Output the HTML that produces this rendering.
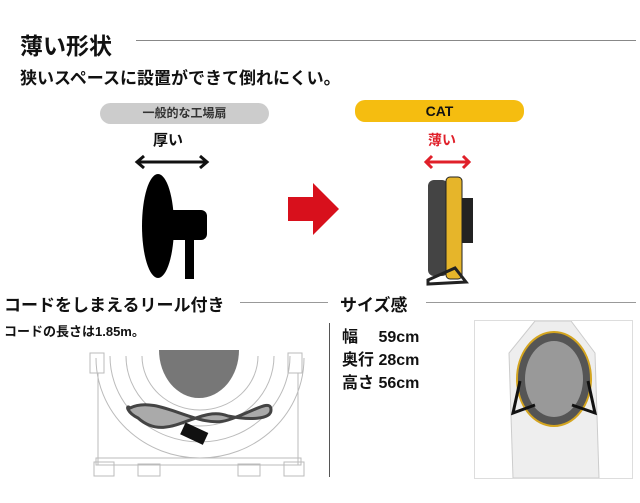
<!DOCTYPE html><html><head><meta charset="utf-8"><style>
body{margin:0;width:640px;height:503px;overflow:hidden;background:#fff;font-family:"Liberation Sans","Noto Sans CJK JP",sans-serif;font-weight:bold;color:#111;position:relative}
.a{position:absolute;white-space:nowrap}
</style></head><body>
<div class="a" style="left:20px;top:27px;font-size:23px">薄い形状</div>
<div class="a" style="left:136px;top:40px;width:500px;height:1px;background:#888"></div>
<div class="a" style="left:20px;top:64px;font-size:17px">狭いスペースに設置ができて倒れにくい。</div>
<div class="a" style="left:100px;top:103px;width:169px;height:21px;border-radius:11px;background:#ccc;text-align:center;font-size:12px;line-height:21px;color:#333">一般的な工場扇</div>
<div class="a" style="left:153px;top:129px;font-size:15px">厚い</div>
<div class="a" style="left:355px;top:100px;width:169px;height:22px;border-radius:10px;background:#f5bd10;text-align:center;font-size:14px;line-height:22px">CAT</div>
<div class="a" style="left:428px;top:130px;font-size:14px;color:#e0202a">薄い</div>
<svg class="a" style="left:0;top:0" width="640" height="503">
<g stroke="#111" stroke-width="3" fill="none"><line x1="138" y1="162" x2="206" y2="162"/><polyline points="144,156 137,162 144,168"/><polyline points="200,156 207,162 200,168"/></g>
<g stroke="#e0202a" stroke-width="3" fill="none"><line x1="427" y1="162" x2="468" y2="162"/><polyline points="432,156 426,162 432,168"/><polyline points="463,156 469,162 463,168"/></g>
<ellipse cx="158" cy="226" rx="16" ry="52" fill="#000"/>
<rect x="163" y="210" width="44" height="30" rx="6" fill="#000"/>
<rect x="185" y="236" width="9" height="43" fill="#000"/>
<polygon points="288,197 313,197 313,183 339,209 313,235 313,221 288,221" fill="#d8101c"/>
<rect x="428" y="180" width="20" height="96" rx="6" fill="#444"/>
<rect x="446" y="177" width="16" height="102" rx="4" fill="#e6b52a" stroke="#222"/>
<rect x="462" y="198" width="11" height="45" fill="#222"/>
<polygon points="428,280 455,268 466,282 428,284" fill="none" stroke="#222" stroke-width="3"/>
</svg>
<div class="a" style="left:4px;top:291px;font-size:17px">コードをしまえるリール付き</div>
<div class="a" style="left:240px;top:302px;width:88px;height:1px;background:#999"></div>
<div class="a" style="left:340px;top:291px;font-size:17px">サイズ感</div>
<div class="a" style="left:426px;top:302px;width:210px;height:1px;background:#999"></div>
<div class="a" style="left:4px;top:321px;font-size:13px">コードの長さは1.85m。</div>
<div class="a" style="left:329px;top:323px;width:1px;height:154px;background:#555"></div>
<div class="a" style="left:342px;top:326px;font-size:16px;line-height:23px">幅　 59cm<br>奥行 28cm<br>高さ 56cm</div>
<svg class="a" style="left:88px;top:350px" width="225" height="130">
<g fill="none" stroke="#bbb" stroke-width="1"><path d="M8,8 A104,100 0 0 0 216,8"/><path d="M22,6 A90,86 0 0 0 202,6"/><path d="M38,6 A74,70 0 0 0 186,6"/><path d="M54,6 A58,54 0 0 0 170,6"/><rect x="2" y="3" width="14" height="20"/><rect x="200" y="3" width="14" height="20"/><line x1="10" y1="23" x2="10" y2="115"/><line x1="210" y1="23" x2="210" y2="115"/><rect x="8" y="108" width="205" height="7"/><rect x="6" y="112" width="20" height="14"/><rect x="196" y="112" width="20" height="14"/><rect x="50" y="114" width="22" height="12"/><rect x="150" y="114" width="22" height="12"/></g>
<path d="M71,0 A40,48 0 0 0 151,0 Z" fill="#777"/>
<path d="M42,58 C70,44 110,80 140,70 C165,62 183,48 183,60 C183,70 160,70 140,66 C110,54 80,95 50,68 C38,62 38,54 42,58 Z" fill="#aaa" stroke="#444" stroke-width="3"/>
<rect x="94" y="77" width="25" height="13" transform="rotate(25 106 83)" fill="#111"/>
</svg>
<div class="a" style="left:474px;top:320px;width:157px;height:157px;border:1px solid #ddd;overflow:hidden">
<svg width="157" height="157"><path d="M60,0 L96,0 L120,32 L124,157 L38,157 L34,32 Z" fill="#eee" stroke="#ccc"/>
<ellipse cx="79" cy="58" rx="37" ry="47" fill="#555" stroke="#d4a520" stroke-width="2"/>
<ellipse cx="79" cy="58" rx="29" ry="38" fill="#999"/>
<path d="M45,60 L38,92 L60,84 M113,60 L120,92 L97,84" stroke="#111" stroke-width="3" fill="none"/></svg></div>
</body></html>
